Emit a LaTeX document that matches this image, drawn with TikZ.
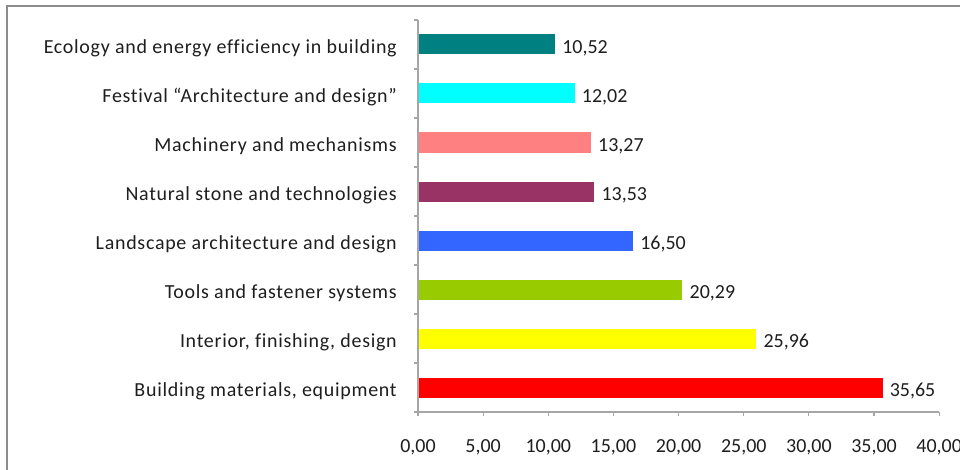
\documentclass[tikz,border=0pt]{standalone}
\usepackage{fontspec}
\setmainfont{Carlito}
\newfontfamily\catfont[LetterSpace=3.6, Ligatures=NoCommon]{Carlito}

\definecolor{framegray}{HTML}{8C8C8C}
\definecolor{axisgray}{HTML}{A6A6A6}
\definecolor{txtgray}{HTML}{1E1E1E}
\definecolor{ecoteal}{HTML}{008080}
\definecolor{festcyan}{HTML}{00FFFF}
\definecolor{machsalmon}{HTML}{FF8080}
\definecolor{stoneplum}{HTML}{993366}
\definecolor{landblue}{HTML}{3366FF}
\definecolor{toolgreen}{HTML}{99CC00}
\definecolor{intyellow}{HTML}{FFFF00}
\definecolor{buildred}{HTML}{FF0000}

\tikzset{
	catlabel/.style={anchor=base east, inner sep=0pt, text=txtgray, font=\catfont\fontsize{14.2}{17}\selectfont},
	vallabel/.style={anchor=base west, inner sep=0pt, text=txtgray, xshift=0.175cm},
	ticklabel/.style={below, inner sep=0pt, text=txtgray, yshift=-0.567cm},
	axisline/.style={draw=axisgray, line width=0.8pt},
}

\begin{document}
\begin{tikzpicture}[font=\fontsize{14.2}{17}\selectfont]
	\clip (0,0) rectangle (24,-11.725);
	\draw[color=framegray, line width=1.1pt] (0.175,-0.15) rectangle (25,-13);

	%% category names
	\node[catlabel] (c1) at (9.925,-1.3425) {Ecology and energy efficiency in building};
	\node[catlabel] (c2) at (9.925,-2.5675) {Festival “Architecture and design”};
	\node[catlabel] (c3) at (9.925,-3.7925) {Machinery and mechanisms};
	\node[catlabel] (c4) at (9.925,-5.0175) {Natural stone and technologies};
	\node[catlabel] (c5) at (9.925,-6.2425) {Landscape architecture and design};
	\node[catlabel] (c6) at (9.925,-7.4675) {Tools and fastener systems};
	\node[catlabel] (c7) at (9.925,-8.6925) {Interior, finishing, design};
	\node[catlabel] (c8) at (9.925,-9.9175) {Building materials, equipment};

	\begin{scope}[shift={(10.45,0)}, x=0.32575cm]
	%% bars
	\fill[ecoteal] (0,-0.8625) rectangle (10.52,-1.3625);
	\fill[festcyan] (0,-2.0875) rectangle (12.02,-2.5875);
	\fill[machsalmon] (0,-3.3125) rectangle (13.27,-3.8125);
	\fill[stoneplum] (0,-4.5375) rectangle (13.53,-5.0375);
	\fill[landblue] (0,-5.7625) rectangle (16.50,-6.2625);
	\fill[toolgreen] (0,-6.9875) rectangle (20.29,-7.4875);
	\fill[intyellow] (0,-8.2125) rectangle (25.96,-8.7125);
	\fill[buildred] (0,-9.4375) rectangle (35.65,-9.9375);

	%% values
	\node[vallabel] (v1) at (10.52,-1.3425) {10,52};
	\node[vallabel] (v2) at (12.02,-2.5675) {12,02};
	\node[vallabel] (v3) at (13.27,-3.7925) {13,27};
	\node[vallabel] (v4) at (13.53,-5.0175) {13,53};
	\node[vallabel] (v5) at (16.50,-6.2425) {16,50};
	\node[vallabel] (v6) at (20.29,-7.4675) {20,29};
	\node[vallabel] (v7) at (25.96,-8.6925) {25,96};
	\node[vallabel] (v8) at (35.65,-9.9175) {35,65};

	%% axes
	\draw[axisline] (0,-0.5) -- (0,-10.3) -- (40,-10.3);
	\draw[axisline] (-0.3,-0.5) -- (0,-0.5);
	\draw[axisline] (-0.3,-1.725) -- (0,-1.725);
	\draw[axisline] (-0.3,-2.95) -- (0,-2.95);
	\draw[axisline] (-0.3,-4.175) -- (0,-4.175);
	\draw[axisline] (-0.3,-5.4) -- (0,-5.4);
	\draw[axisline] (-0.3,-6.625) -- (0,-6.625);
	\draw[axisline] (-0.3,-7.85) -- (0,-7.85);
	\draw[axisline] (-0.3,-9.075) -- (0,-9.075);
	\draw[axisline] (-0.3,-10.3) -- (0,-10.3);

	\draw[axisline] (0,-10.3) -- (0,-10.4) node[ticklabel] (t0) {0,00};
	\draw[axisline] (5,-10.3) -- (5,-10.4) node[ticklabel] (t5) {5,00};
	\draw[axisline] (10,-10.3) -- (10,-10.4) node[ticklabel] (t10) {10,00};
	\draw[axisline] (15,-10.3) -- (15,-10.4) node[ticklabel] (t15) {15,00};
	\draw[axisline] (20,-10.3) -- (20,-10.4) node[ticklabel] (t20) {20,00};
	\draw[axisline] (25,-10.3) -- (25,-10.4) node[ticklabel] (t25) {25,00};
	\draw[axisline] (30,-10.3) -- (30,-10.4) node[ticklabel] (t30) {30,00};
	\draw[axisline] (35,-10.3) -- (35,-10.4) node[ticklabel] (t35) {35,00};
	\draw[axisline] (40,-10.3) -- (40,-10.4) node[ticklabel] (t40) {40,00};
	\end{scope}
\end{tikzpicture}
\end{document}
